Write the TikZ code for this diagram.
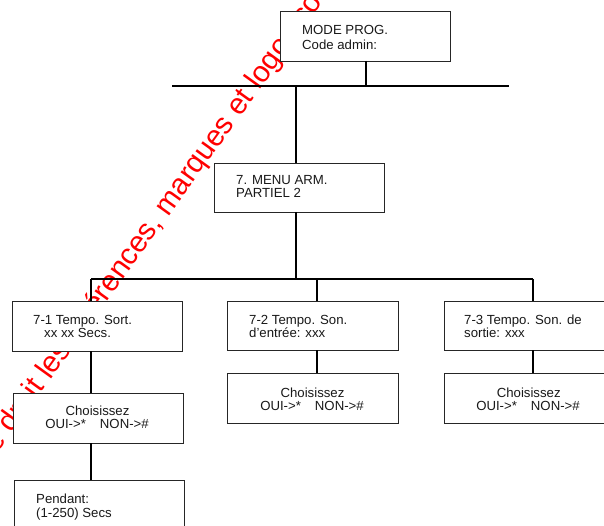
\documentclass[tikz,border=0pt]{standalone}
\usepackage{fontspec}
\setmainfont{Liberation Sans}
\begin{document}
\begin{tikzpicture}[x=1pt,y=-1pt,
  box/.style={draw=black!85, line width=0.8pt, fill=white, rectangle, inner sep=0pt, outer sep=0pt, anchor=north west},
  conn/.style={line width=1.7pt, black},
  lbl/.style={inner sep=0pt, anchor=base west, text=black!90, font=\fontsize{13.2}{13}\selectfont},
  clbl/.style={lbl, anchor=base},
  wm/.style={inner sep=0pt, anchor=base west, text=red, font=\fontsize{29.5}{30}\selectfont}]
\useasboundingbox (0,0) rectangle (604,526);
\clip (0,0) rectangle (604,526);
% watermark
\node[wm, rotate=54.2] (wmark) at (11.7,434) {\llap{de }droit les références, marques et logos sont};
% boxes
\node[box, minimum width=170pt, minimum height=50pt] (mode) at (280,11) {};
\node[box, minimum width=170pt, minimum height=49pt] (box7) at (214,163) {};
\node[box, minimum width=170pt, minimum height=50pt] (b71) at (12,301) {};
\node[box, minimum width=170pt, minimum height=50pt] (c1) at (13,393) {};
\node[box, minimum width=170pt, minimum height=60pt] (pend) at (14,480) {};
\node[box, minimum width=171pt, minimum height=49pt] (b72) at (227,301) {};
\node[box, minimum width=171pt, minimum height=50pt] (c2) at (227,373) {};
\node[box, minimum width=180pt, minimum height=49pt] (b73) at (444,301) {};
\node[box, minimum width=180pt, minimum height=50pt] (c3) at (444,373) {};
% texts
\node[lbl] (t-mode1) at (302,35) {MODE PROG.};
\begin{scope}
\clip (280,11) rectangle (450,48.3);
\node[lbl] (t-mode2) at (302,50) {Code admin:};
\end{scope}
\node[lbl] (t-71) at (236,185) {7. MENU ARM.};
\node[lbl] (t-72) at (236,198) {PARTIEL 2};
\node[lbl] (t-b71a) at (33,324) {7-1 Tempo. Sort.};
\node[lbl] (t-b71b) at (44,337) {xx xx Secs.};
\node[clbl] (t-c1a) at (97.5,415) {Choisissez};
\node[clbl] (t-c1b) at (97,428) {OUI->*\hspace{14pt}NON->\#};
\node[lbl] (t-pa) at (36,503) {Pendant:};
\node[lbl] (t-pb) at (36,517) {(1-250) Secs};
\node[lbl] (t-b72a) at (249,324) {7-2 Tempo. Son.};
\node[lbl] (t-b72b) at (249,337) {d’entrée: xxx};
\node[clbl] (t-c2a) at (312.5,397) {Choisissez};
\node[clbl] (t-c2b) at (312,410) {OUI->*\hspace{14pt}NON->\#};
\node[lbl] (t-b73a) at (464,324) {7-3 Tempo. Son. de};
\node[lbl] (t-b73b) at (464,337) {sortie: xxx};
\node[clbl] (t-c3a) at (528.7,397) {Choisissez};
\node[clbl] (t-c3b) at (528,410) {OUI->*\hspace{14pt}NON->\#};
% bus coordinates
\coordinate (ja1) at (172,86);
\coordinate (ja2) at (509,86);
\coordinate (jm) at (366,86);
\coordinate (j7) at (296,86);
\coordinate (jb1) at (91,279);
\coordinate (jb2) at (317,279);
\coordinate (jb3) at (533,279);
\coordinate (j7b) at (296,279);
% connectors
\draw[conn] (ja1) -- (ja2);
\draw[conn] (jm |- mode.south) -- (jm);
\draw[conn] (j7) -- (j7 |- box7.north);
\draw[conn] (j7b |- box7.south) -- (j7b);
\draw[conn] (jb1) -- (jb3);
\draw[conn] (jb1) -- (jb1 |- b71.north);
\draw[conn] (jb2) -- (jb2 |- b72.north);
\draw[conn] (jb3) -- (jb3 |- b73.north);
\draw[conn] (jb1 |- b71.south) -- (jb1 |- c1.north);
\draw[conn] (jb1 |- c1.south) -- (jb1 |- pend.north);
\draw[conn] (jb2 |- b72.south) -- (jb2 |- c2.north);
\draw[conn] (jb3 |- b73.south) -- (jb3 |- c3.north);
\end{tikzpicture}
\end{document}
